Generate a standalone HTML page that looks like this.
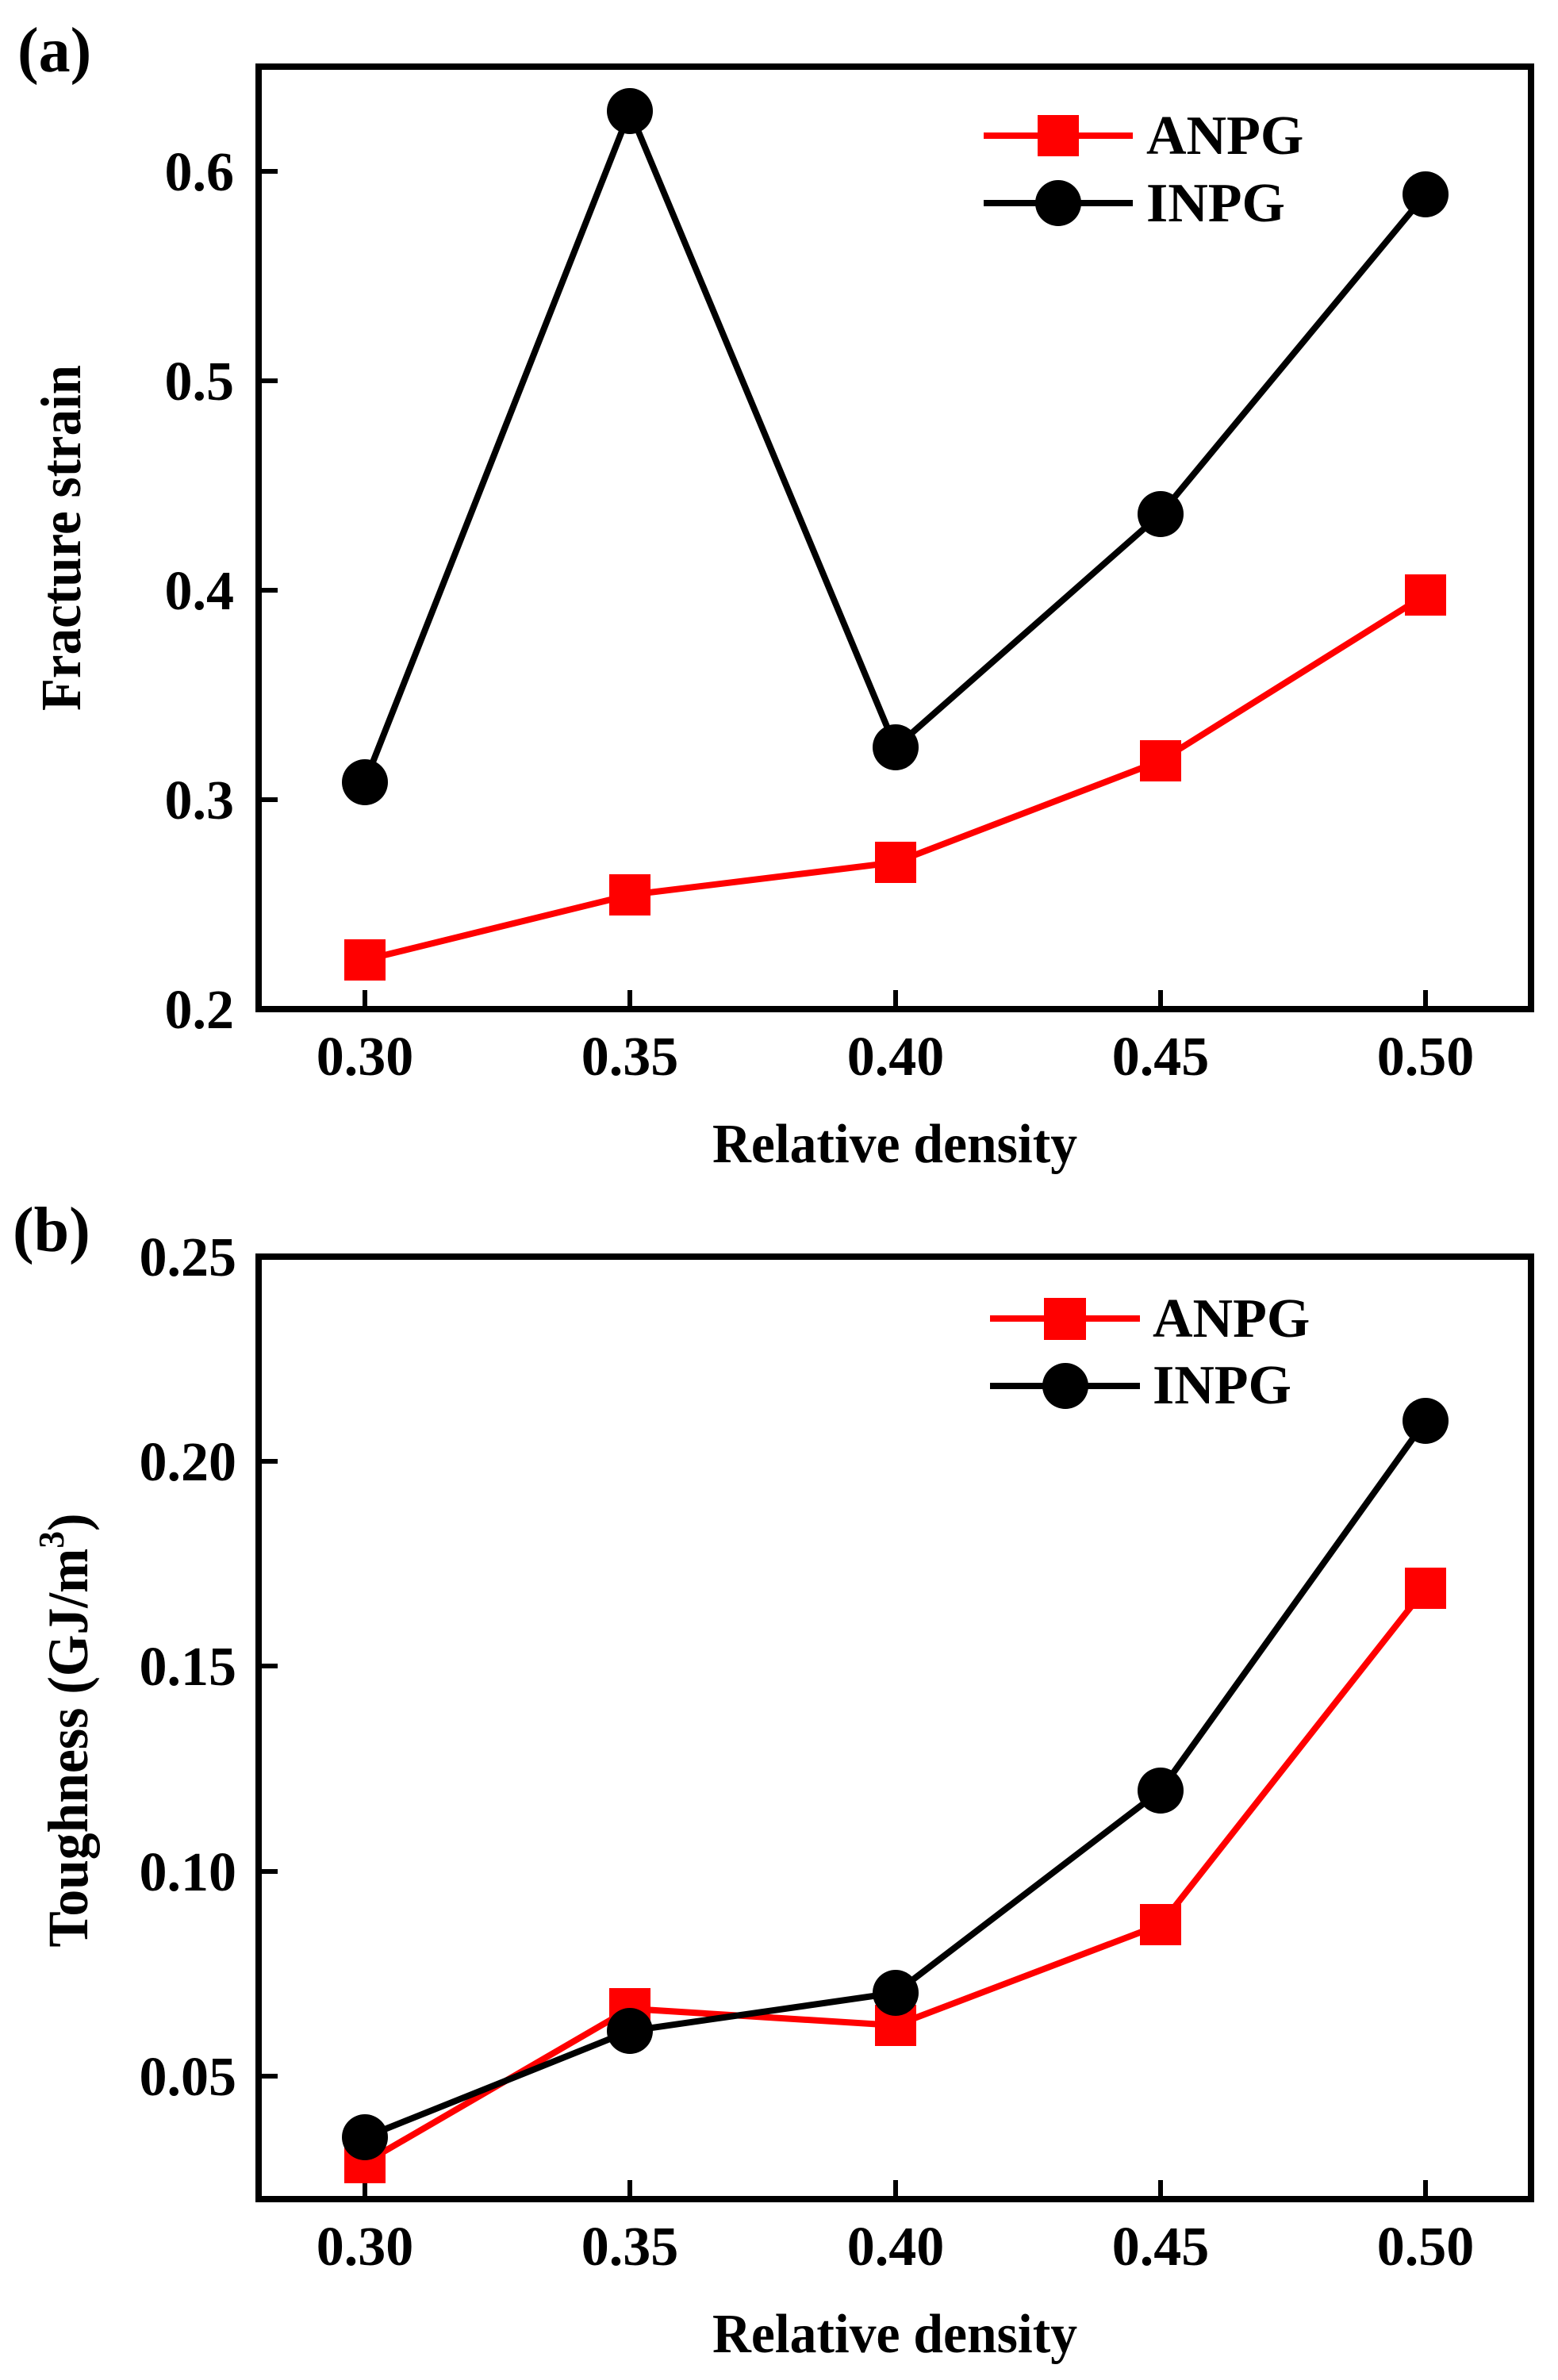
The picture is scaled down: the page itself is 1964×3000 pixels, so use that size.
<!DOCTYPE html>
<html><head><meta charset="utf-8"><style>html,body{margin:0;padding:0;background:#fff}svg{display:block}</style></head>
<body>
<svg width="1964" height="3000" viewBox="0 0 1964 3000" xmlns="http://www.w3.org/2000/svg" font-family="'Liberation Serif', 'Times New Roman', serif" font-weight="bold">
<rect width="1964" height="3000" fill="#fff"/>
<!-- Panel a -->
<text x="22" y="90" font-size="80">(a)</text>
<rect x="326" y="84" width="1604" height="1188" fill="none" stroke="#000" stroke-width="8"/>
<g stroke="#000" stroke-width="6">
<line x1="460" y1="1272" x2="460" y2="1248"/><line x1="794" y1="1272" x2="794" y2="1248"/><line x1="1129" y1="1272" x2="1129" y2="1248"/><line x1="1463" y1="1272" x2="1463" y2="1248"/><line x1="1797" y1="1272" x2="1797" y2="1248"/>
<line x1="326" y1="1008" x2="350" y2="1008"/><line x1="326" y1="744" x2="350" y2="744"/><line x1="326" y1="480" x2="350" y2="480"/><line x1="326" y1="216" x2="350" y2="216"/>
</g>
<g font-size="70" text-anchor="end">
<text x="295" y="1296">0.2</text><text x="295" y="1032">0.3</text><text x="295" y="768">0.4</text><text x="295" y="504">0.5</text><text x="295" y="240">0.6</text>
</g>
<g font-size="70" text-anchor="middle">
<text x="460" y="1355">0.30</text><text x="794" y="1355">0.35</text><text x="1129" y="1355">0.40</text><text x="1463" y="1355">0.45</text><text x="1797" y="1355">0.50</text>
<text x="1128" y="1465" textLength="460" lengthAdjust="spacingAndGlyphs">Relative density</text>
</g>
<text transform="translate(101,678) rotate(-90)" font-size="72" text-anchor="middle" textLength="436" lengthAdjust="spacingAndGlyphs">Fracture strain</text>
<polyline points="460,1210 794,1128 1129,1087 1463,959 1797,750" fill="none" stroke="#f00" stroke-width="8"/>
<g fill="#f00"><rect x="434" y="1184" width="52" height="52"/><rect x="768" y="1102" width="52" height="52"/><rect x="1103" y="1061" width="52" height="52"/><rect x="1437" y="933" width="52" height="52"/><rect x="1771" y="724" width="52" height="52"/></g>
<polyline points="460,986 794,140 1129,942 1463,648 1797,245" fill="none" stroke="#000" stroke-width="8"/>
<g fill="#000"><circle cx="460" cy="986" r="29"/><circle cx="794" cy="140" r="29"/><circle cx="1129" cy="942" r="29"/><circle cx="1463" cy="648" r="29"/><circle cx="1797" cy="245" r="29"/></g>
<line x1="1240" y1="171" x2="1428" y2="171" stroke="#f00" stroke-width="8"/><rect x="1308" y="145" width="52" height="52" fill="#f00"/>
<line x1="1240" y1="256" x2="1428" y2="256" stroke="#000" stroke-width="8"/><circle cx="1334" cy="256" r="29"/>
<text x="1445" y="194" font-size="70">ANPG</text><text x="1445" y="279" font-size="70">INPG</text>
<!-- Panel b -->
<text x="16" y="1577" font-size="80">(b)</text>
<rect x="326" y="1584" width="1604" height="1188" fill="none" stroke="#000" stroke-width="8"/>
<g stroke="#000" stroke-width="6">
<line x1="460" y1="2772" x2="460" y2="2748"/><line x1="794" y1="2772" x2="794" y2="2748"/><line x1="1129" y1="2772" x2="1129" y2="2748"/><line x1="1463" y1="2772" x2="1463" y2="2748"/><line x1="1797" y1="2772" x2="1797" y2="2748"/>
<line x1="326" y1="2617" x2="350" y2="2617"/><line x1="326" y1="2359" x2="350" y2="2359"/><line x1="326" y1="2100" x2="350" y2="2100"/><line x1="326" y1="1842" x2="350" y2="1842"/>
</g>
<g font-size="70" text-anchor="end">
<text x="298" y="2641">0.05</text><text x="298" y="2383">0.10</text><text x="298" y="2124">0.15</text><text x="298" y="1866">0.20</text><text x="298" y="1608">0.25</text>
</g>
<g font-size="70" text-anchor="middle">
<text x="460" y="2855">0.30</text><text x="794" y="2855">0.35</text><text x="1129" y="2855">0.40</text><text x="1463" y="2855">0.45</text><text x="1797" y="2855">0.50</text>
<text x="1128" y="2965" textLength="460" lengthAdjust="spacingAndGlyphs">Relative density</text>
</g>
<text transform="translate(110,2181) rotate(-90)" font-size="72" text-anchor="middle" textLength="547" lengthAdjust="spacingAndGlyphs">Toughness (GJ/m<tspan font-size="46" dy="-30">3</tspan><tspan dy="30">)</tspan></text>
<polyline points="460,2726 794,2532 1129,2553 1463,2426 1797,2002" fill="none" stroke="#f00" stroke-width="8"/>
<g fill="#f00"><rect x="434" y="2700" width="52" height="52"/><rect x="768" y="2506" width="52" height="52"/><rect x="1103" y="2527" width="52" height="52"/><rect x="1437" y="2400" width="52" height="52"/><rect x="1771" y="1976" width="52" height="52"/></g>
<polyline points="460,2694 794,2560 1129,2512 1463,2257 1797,1791" fill="none" stroke="#000" stroke-width="8"/>
<g fill="#000"><circle cx="460" cy="2694" r="29"/><circle cx="794" cy="2560" r="29"/><circle cx="1129" cy="2512" r="29"/><circle cx="1463" cy="2257" r="29"/><circle cx="1797" cy="1791" r="29"/></g>
<line x1="1248" y1="1662" x2="1437" y2="1662" stroke="#f00" stroke-width="8"/><rect x="1316" y="1636" width="53" height="53" fill="#f00"/>
<line x1="1248" y1="1747" x2="1437" y2="1747" stroke="#000" stroke-width="8"/><circle cx="1343" cy="1747" r="29"/>
<text x="1453" y="1685" font-size="70">ANPG</text><text x="1453" y="1769" font-size="70">INPG</text>
</svg>
</body></html>
